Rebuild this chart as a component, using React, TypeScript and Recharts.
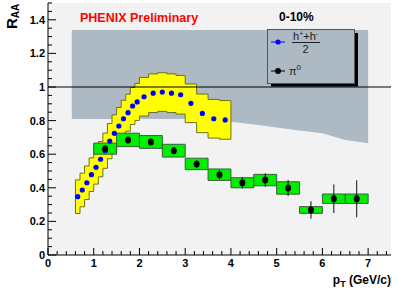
import React from 'react'
import { ComposedChart, Area, Scatter, XAxis, YAxis, CartesianGrid, ReferenceArea, ReferenceLine, ErrorBar } from 'recharts'

// charged hadrons (h+ + h-)/2
const hadronX = [0.65, 0.75, 0.85, 0.95, 1.05, 1.15, 1.25, 1.35, 1.45, 1.55, 1.65, 1.75, 1.85, 1.95, 2.1, 2.3, 2.5, 2.7, 2.9, 3.125, 3.375, 3.625, 3.875]
const hadronHalfBin = [0.05, 0.05, 0.05, 0.05, 0.05, 0.05, 0.05, 0.05, 0.05, 0.05, 0.05, 0.05, 0.05, 0.05, 0.1, 0.1, 0.1, 0.1, 0.1, 0.125, 0.125, 0.125, 0.125]
const hadronY = [0.347, 0.387, 0.43, 0.478, 0.522, 0.57, 0.621, 0.678, 0.724, 0.768, 0.811, 0.847, 0.887, 0.911, 0.942, 0.963, 0.97, 0.963, 0.954, 0.903, 0.843, 0.811, 0.804]
const hadronSys = [0.1, 0.1, 0.1, 0.1, 0.1, 0.105, 0.105, 0.105, 0.11, 0.11, 0.11, 0.11, 0.11, 0.11, 0.115, 0.115, 0.115, 0.115, 0.115, 0.115, 0.115, 0.115, 0.115]

// pi0
const pi0X = [1.25, 1.75, 2.25, 2.75, 3.25, 3.75, 4.25, 4.75, 5.25, 5.75, 6.25, 6.75]
const pi0Y = [0.633, 0.685, 0.673, 0.621, 0.542, 0.478, 0.43, 0.446, 0.399, 0.268, 0.335, 0.335]
const pi0Stat = [0.02, 0.018, 0.018, 0.018, 0.02, 0.028, 0.034, 0.04, 0.048, 0.052, 0.085, 0.11]
const pi0Sys = [0.033, 0.04, 0.038, 0.038, 0.034, 0.034, 0.03, 0.034, 0.037, 0.02, 0.028, 0.028]

// Ncoll / normalisation band (grey)
const bandX = [0.52, 3.5, 4.0, 4.6, 5.4, 6.0, 6.5, 7.0]
const bandLo = [0.81, 0.81, 0.793, 0.774, 0.744, 0.724, 0.685, 0.665]
const bandHi = [1.34, 1.34, 1.34, 1.34, 1.34, 1.34, 1.34, 1.34]

const xMajor = [0, 1, 2, 3, 4, 5, 6, 7]
const yMajor = [0, 0.2, 0.4, 0.6, 0.8, 1, 1.2, 1.4]
const xTicks = Array.from({ length: 38 }, (_, i) => +(i * 0.2).toFixed(2))
const yTicks = Array.from({ length: 31 }, (_, i) => +(i * 0.05).toFixed(2))

const bandData = bandX.map((x, i) => ({ x, range: [bandLo[i], bandHi[i]] }))
const hadronData = hadronX.map((x, i) => ({ x, y: hadronY[i] }))
const yellowData = [
  ...hadronX.map((x, i) => ({ x: x - hadronHalfBin[i], range: [hadronY[i] - hadronSys[i], hadronY[i] + hadronSys[i]] })),
  {
    x: hadronX[hadronX.length - 1] + hadronHalfBin[hadronX.length - 1],
    range: [hadronY[hadronY.length - 1] - hadronSys[hadronSys.length - 1], hadronY[hadronY.length - 1] + hadronSys[hadronSys.length - 1]],
  },
]
const pi0Data = pi0X.map((x, i) => ({ x, y: pi0Y[i], err: pi0Stat[i] }))

const FONT = '"Liberation Sans", Arial, sans-serif'
const isMajor = (v: number, majors: number[]) => majors.some((m) => Math.abs(m - v) < 1e-6)
const fmt = (v: number) => String(Number(v.toFixed(1)))

// eslint-disable-next-line @typescript-eslint/no-explicit-any
const BottomTick = ({ x, y, payload }: any) => {
  const major = isMajor(payload.value, xMajor)
  return (
    <g>
      <line x1={x} x2={x} y1={y} y2={y - (major ? 7 : 4)} stroke="#000" />
      {major && (
        <text x={x} y={y + 12} textAnchor="middle" fontSize={11} fontWeight="bold" fontFamily={FONT} fill="#000">
          {fmt(payload.value)}
        </text>
      )}
    </g>
  )
}

// eslint-disable-next-line @typescript-eslint/no-explicit-any
const TopTick = ({ x, y, payload }: any) => {
  const major = isMajor(payload.value, xMajor)
  return <line x1={x} x2={x} y1={y} y2={y + (major ? 7 : 4)} stroke="#000" />
}

// eslint-disable-next-line @typescript-eslint/no-explicit-any
const LeftTick = ({ x, y, payload }: any) => {
  const major = isMajor(payload.value, yMajor)
  return (
    <g>
      <line x1={x} x2={x + (major ? 8 : 4)} y1={y} y2={y} stroke="#000" />
      {major && (
        <text x={x - 3} y={y + 4} textAnchor="end" fontSize={11} fontWeight="bold" fontFamily={FONT} fill="#000">
          {fmt(payload.value)}
        </text>
      )}
    </g>
  )
}

// eslint-disable-next-line @typescript-eslint/no-explicit-any
const RightTick = ({ x, y, payload }: any) => {
  const major = isMajor(payload.value, yMajor)
  return <line x1={x} x2={x - (major ? 8 : 4)} y1={y} y2={y} stroke="#000" />
}

const last = hadronX.length - 1
const yellowLeft = hadronX[0] - hadronHalfBin[0]
const yellowRight = hadronX[last] + hadronHalfBin[last]

export default function App() {
  return (
    <div style={{ position: 'absolute', left: 0, top: 0, width: 399, height: 291, background: '#fff' }}>
      <ComposedChart width={399} height={291} margin={{ top: 3, right: 8, bottom: 0, left: 0 }}>
        <CartesianGrid horizontal={false} vertical={false} fill="#f2f2f2" />
        <XAxis
          type="number"
          dataKey="x"
          domain={[0, 7.5]}
          ticks={xTicks}
          interval={0}
          tickLine={false}
          tickSize={0}
          tickMargin={0}
          tick={(p) => <BottomTick {...p} />}
          axisLine={{ stroke: '#000' }}
          height={36}
          allowDataOverflow
        />
        <XAxis
          xAxisId="top"
          orientation="top"
          type="number"
          dataKey="x"
          domain={[0, 7.5]}
          ticks={xTicks}
          interval={0}
          tickLine={false}
          tickSize={0}
          tickMargin={0}
          tick={(p) => <TopTick {...p} />}
          axisLine={{ stroke: '#000' }}
          height={0}
          allowDataOverflow
        />
        <YAxis
          type="number"
          domain={[0, 1.5]}
          ticks={yTicks}
          interval={0}
          tickLine={false}
          tickSize={0}
          tickMargin={0}
          tick={(p) => <LeftTick {...p} />}
          axisLine={{ stroke: '#000' }}
          width={48}
          allowDataOverflow
        />
        <YAxis
          yAxisId="right"
          orientation="right"
          type="number"
          domain={[0, 1.5]}
          ticks={yTicks}
          interval={0}
          tickLine={false}
          tickSize={0}
          tickMargin={0}
          tick={(p) => <RightTick {...p} />}
          axisLine={{ stroke: '#000' }}
          width={0}
          allowDataOverflow
        />
        <Area
          data={bandData}
          dataKey="range"
          type="linear"
          fill="#adbac4"
          fillOpacity={1}
          stroke="none"
          dot={false}
          activeDot={false}
          isAnimationActive={false}
        />
        <Area
          data={yellowData}
          dataKey="range"
          type="stepAfter"
          fill="#ffff00"
          fillOpacity={1}
          stroke="#6e6e20"
          strokeWidth={1}
          dot={false}
          activeDot={false}
          isAnimationActive={false}
        />
        <ReferenceLine
          segment={[{ x: yellowLeft, y: hadronY[0] - hadronSys[0] }, { x: yellowLeft, y: hadronY[0] + hadronSys[0] }]}
          stroke="#6e6e20"
        />
        <ReferenceLine
          segment={[{ x: yellowRight, y: hadronY[last] - hadronSys[last] }, { x: yellowRight, y: hadronY[last] + hadronSys[last] }]}
          stroke="#6e6e20"
        />
        {pi0X.map((x, i) => (
          <ReferenceArea
            key={x}
            x1={x - 0.25}
            x2={x + 0.25}
            y1={pi0Y[i] - pi0Sys[i]}
            y2={pi0Y[i] + pi0Sys[i]}
            fill="#00ee00"
            fillOpacity={1}
            stroke="#3b5e3b"
            strokeWidth={1}
          />
        ))}
        <ReferenceLine y={1} stroke="#000" strokeWidth={1} />
        <Scatter
          data={hadronData}
          dataKey="y"
          isAnimationActive={false}
          // eslint-disable-next-line @typescript-eslint/no-explicit-any
          shape={(p: any) => <circle cx={p.cx} cy={p.cy} r={2.6} fill="#0000ff" />}
        />
        <Scatter
          data={pi0Data}
          dataKey="y"
          isAnimationActive={false}
          // eslint-disable-next-line @typescript-eslint/no-explicit-any
          shape={(p: any) => <ellipse cx={p.cx} cy={p.cy} rx={3} ry={3.5} fill="#000" />}
        >
          <ErrorBar dataKey="err" direction="y" width={0} stroke="#111" strokeWidth={1} />
        </Scatter>
      </ComposedChart>

      <svg width={399} height={291} style={{ position: 'absolute', left: 0, top: 0, pointerEvents: 'none' }} fontFamily={FONT}>
        <text transform="translate(17,29) rotate(-90)" fontSize={15} fontWeight="bold" fill="#000">
          R
          <tspan fontSize={10} dy={2}>AA</tspan>
        </text>
        <text x={80} y={22} fontSize={12.5} fontWeight="bold" fill="#ff0000">PHENIX Preliminary</text>
        <text x={279} y={21} fontSize={12} fontWeight="bold" fill="#000">0-10%</text>
        <text x={391} y={284} textAnchor="end" fontSize={12} fontWeight="bold" fill="#000">
          p<tspan fontSize={9} dy={3}>T</tspan>
          <tspan dy={-3}> (GeV/c)</tspan>
        </text>

        {/* legend */}
        <rect x={271} y={83.5} width={87} height={3} fill="#000" />
        <rect x={355} y={33} width={3} height={53} fill="#000" />
        <rect x={267.5} y={29.5} width={87} height={54} fill="#adbac4" stroke="#555" />
        <line x1={271} x2={285} y1={42} y2={42} stroke="#0000ff" />
        <circle cx={278} cy={42} r={2.6} fill="#0000ff" />
        <text x={293} y={40} fontSize={11} fill="#222">
          h<tspan fontSize={7} dy={-4}>+</tspan>
          <tspan dy={4}>+h</tspan>
          <tspan fontSize={7} dy={-4}>-</tspan>
        </text>
        <line x1={292} x2={320} y1={42.5} y2={42.5} stroke="#222" />
        <text x={305.5} y={53} fontSize={11} textAnchor="middle" fill="#222">2</text>
        <line x1={271} x2={285} y1={71} y2={71} stroke="#000" />
        <circle cx={278} cy={71} r={3} fill="#000" />
        <text x={289} y={75} fontSize={11} fill="#222">
          π<tspan fontSize={8} dy={-5}>0</tspan>
        </text>
      </svg>
    </div>
  )
}
